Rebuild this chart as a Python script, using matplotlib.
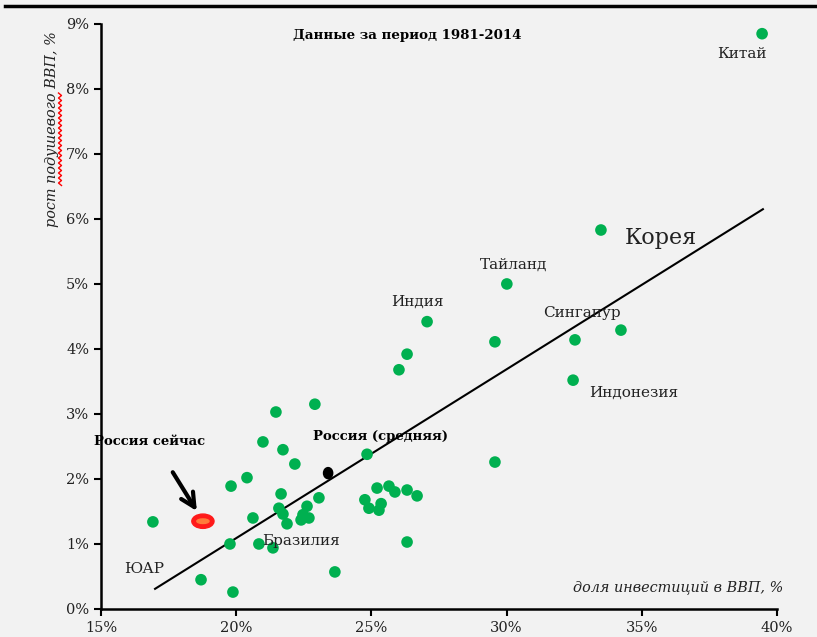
import matplotlib.pyplot as plt
import numpy as np
from matplotlib.patches import Ellipse
from matplotlib.lines import Line2D
from matplotlib.ticker import FuncFormatter

# investment share of GDP (%) vs per-capita GDP growth (%), 1981-2014
invest = [39.45, 33.49, 30.01, 29.57, 32.53, 34.23, 32.46, 27.06, 26.32, 26.02,
          22.91, 21.47, 20.99, 21.73, 22.17, 20.40, 19.81, 21.66, 23.06, 24.84,
          29.57, 21.58, 21.73, 22.62, 22.47, 22.40, 22.69, 21.88, 20.62, 16.92,
          19.77, 20.84, 21.36, 19.88, 18.70, 23.65, 26.32, 24.76, 24.91, 25.21,
          25.65, 25.87, 26.32, 26.69, 25.36, 25.28]
growth = [8.85, 5.83, 5.00, 4.11, 4.14, 4.29, 3.52, 4.42, 3.92, 3.68,
          3.15, 3.03, 2.57, 2.45, 2.23, 2.02, 1.89, 1.77, 1.71, 2.38,
          2.26, 1.55, 1.46, 1.58, 1.45, 1.37, 1.40, 1.31, 1.40, 1.34,
          1.00, 1.00, 0.94, 0.26, 0.45, 0.57, 1.03, 1.68, 1.55, 1.86,
          1.89, 1.80, 1.83, 1.74, 1.62, 1.52]

russia_avg = (23.40, 2.09)
russia_now = (18.77, 1.35)

trend_x = [17.0, 39.48]
trend_y = [0.31, 6.15]

labels = [("Китай", 38.70, 8.54, 11), ("Корея", 35.7, 5.7, 16), ("Тайланд", 30.25, 5.3, 11),
          ("Сингапур", 32.8, 4.55, 11), ("Индия", 26.72, 4.72, 11), ("Индонезия", 34.71, 3.32, 11),
          ("Бразилия", 22.4, 1.04, 11), ("ЮАР", 16.6, 0.62, 11)]

bg = "#f2f2f2"
green = "#00b050"
serif = ["DejaVu Serif"]

fig = plt.figure(figsize=(8.17, 6.37), dpi=100, facecolor=bg)
ax = fig.add_axes([0.1236, 0.044, 0.8274, 0.9184], facecolor=bg)

ax.plot(trend_x, trend_y, color="black", lw=1.5, zorder=2)
ax.scatter(invest, growth, s=70, color=green, edgecolors="none", zorder=3)

ax.add_patch(Ellipse(russia_now, 0.82, 0.22, color="#ff1a1a", zorder=4))
ax.add_patch(Ellipse(russia_now, 0.45, 0.07, color="#ff7a3a", zorder=5))
ax.add_patch(Ellipse(russia_avg, 0.34, 0.17, color="black", zorder=4))

ax.annotate("", xy=(18.6, 1.47), xytext=(17.6, 2.14),
            arrowprops=dict(arrowstyle="->,head_length=1.0,head_width=0.5", lw=3, color="black"))

for name, x, y, fs in labels:
    ax.text(x, y, name, fontsize=fs, family=serif, color="#222222", ha="center", va="center")

ax.text(22.84, 2.65, "Россия (средняя)", fontsize=9.5, family=serif, fontweight="bold", ha="left", va="center")
ax.text(16.81, 2.58, "Россия сейчас", fontsize=9.5, family=serif, fontweight="bold", ha="center", va="center")
fig.text(0.498, 0.945, "Данные за период 1981-2014", fontsize=9.6,
         family=serif, fontweight="bold", ha="center", va="center")
ax.text(1.009, 0.038, "доля инвестиций в ВВП, %", transform=ax.transAxes, fontsize=10.4,
        family=serif, style="italic", ha="right", va="center", color="#222222")
fig.text(0.064, 0.797, "рост подушевого ВВП, %", rotation=90, fontsize=10.4, family=serif,
         style="italic", ha="center", va="center", color="#222222")

ax.set_xlim(15, 40)
ax.set_ylim(0, 9)
ax.set_xticks([15, 20, 25, 30, 35, 40])
ax.set_yticks(range(10))
ax.xaxis.set_major_formatter(FuncFormatter(lambda v, p: f"{v:.0f}%"))
ax.yaxis.set_major_formatter(FuncFormatter(lambda v, p: f"{v:.0f}%"))
for lab in ax.get_xticklabels() + ax.get_yticklabels():
    lab.set_family(serif)
    lab.set_fontsize(10.5)
    lab.set_color("#222222")
ax.tick_params(direction="out", length=5, width=1.5)
for side in ["top", "right"]:
    ax.spines[side].set_visible(False)
for side in ["left", "bottom"]:
    ax.spines[side].set_linewidth(1.8)

# top border line and red spell-check squiggle beside the y label
fig.add_artist(Line2D([5 / 817, 1], [1 - 6 / 637] * 2, transform=fig.transFigure, color="black", lw=2.5))
zy = np.arange(93, 188, 2.5)
zx = 60 + np.where(np.arange(len(zy)) % 2 == 0, -1.5, 1.5)
fig.add_artist(Line2D(zx / 817, 1 - zy / 637, transform=fig.transFigure, color="red", lw=1))

fig.savefig("out.png", dpi=100, facecolor=bg)
